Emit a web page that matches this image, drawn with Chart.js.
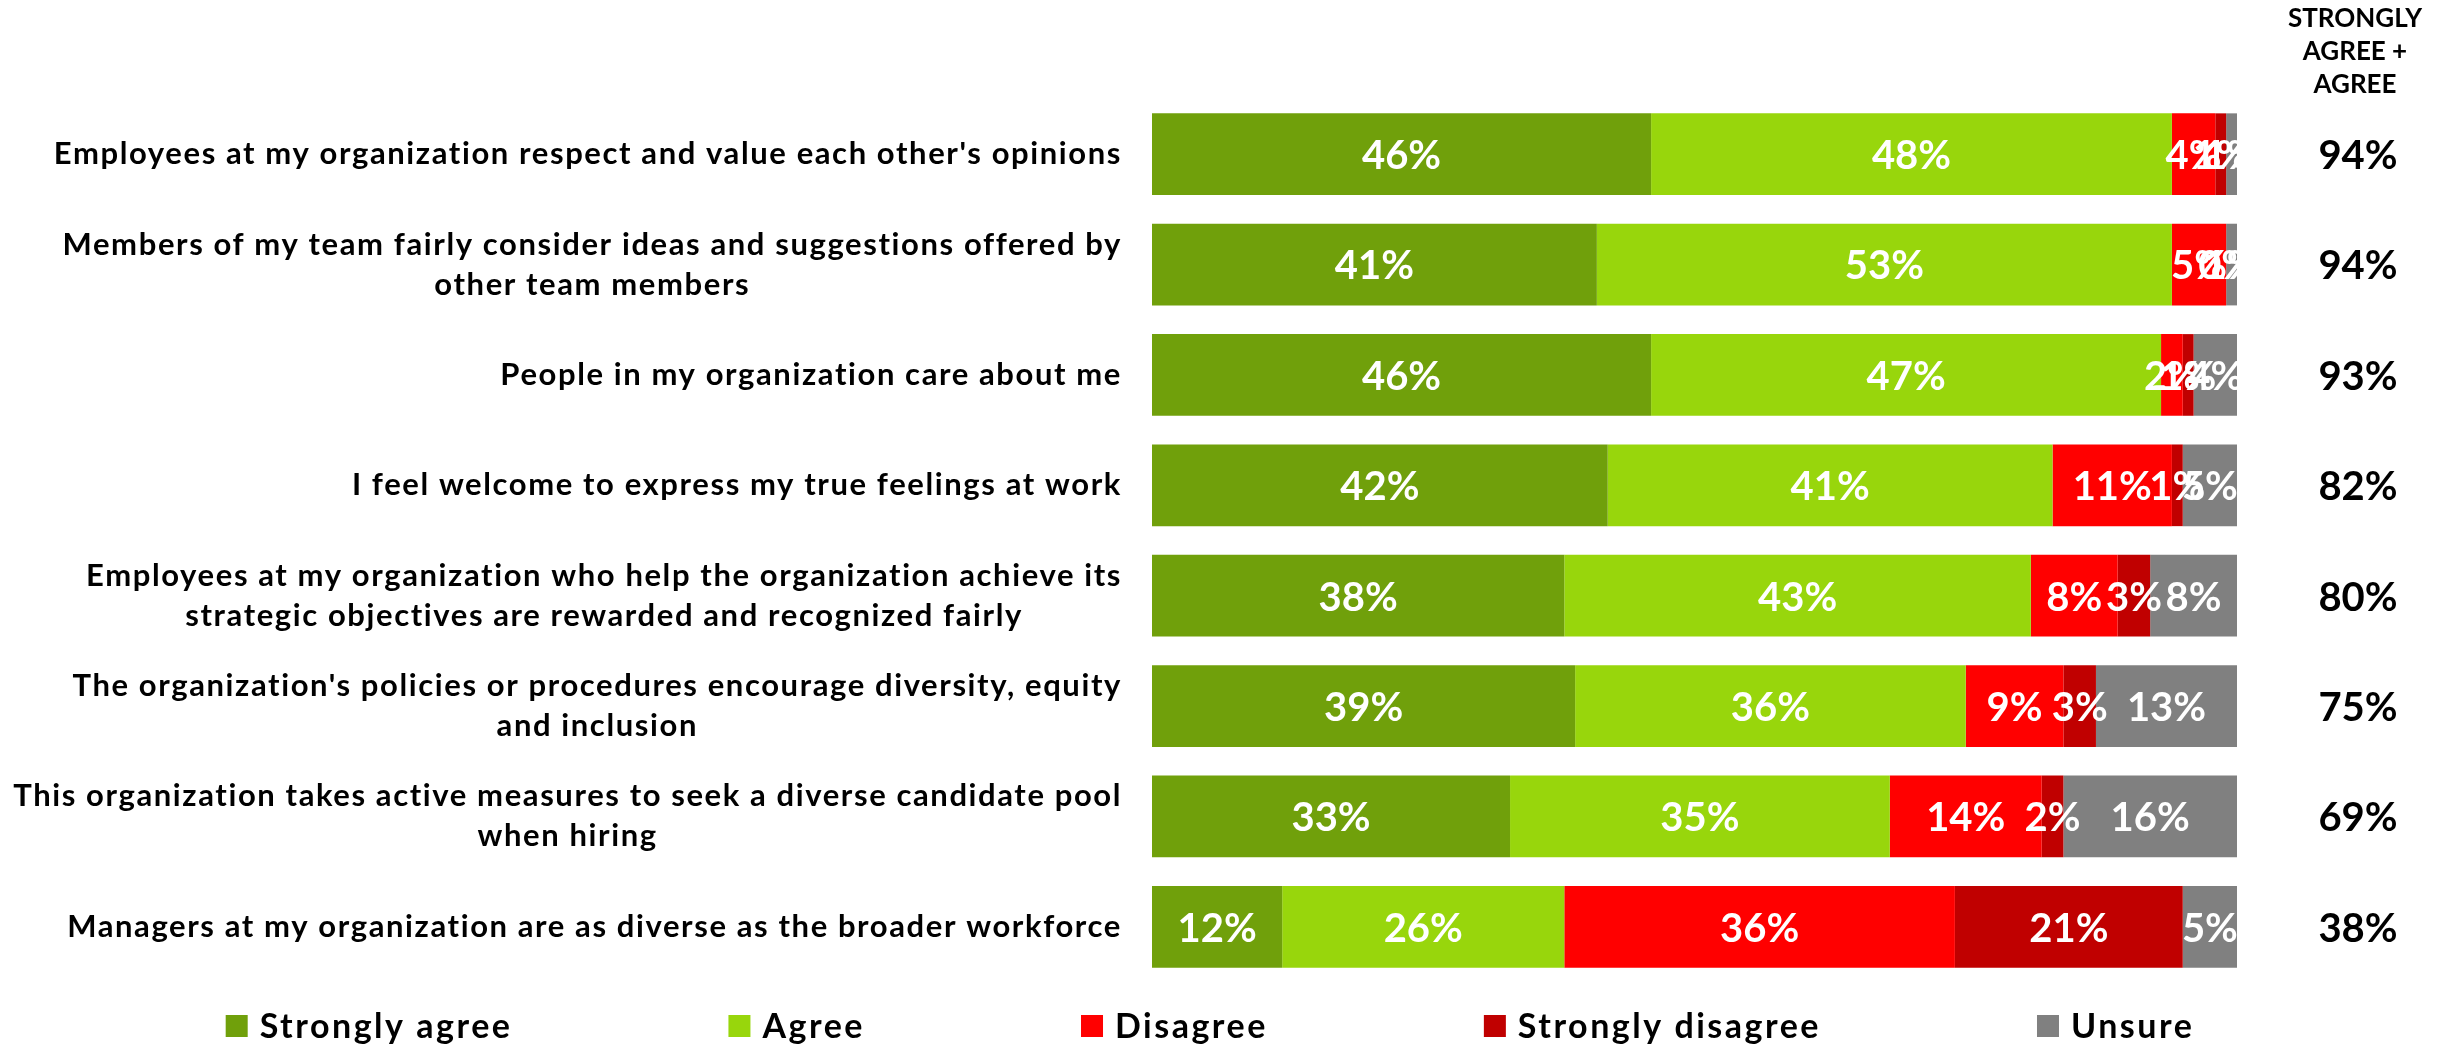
<!DOCTYPE html>
<html>
<head>
<meta charset="utf-8">
<title>Inclusion and belonging survey</title>
<script src="https://cdn.jsdelivr.net/npm/chart.js@4.4.1/dist/chart.umd.min.js"></script>
<style>
  html, body { margin: 0; padding: 0; background: #ffffff; }
  #wrap { width: 2448px; height: 1044px; }
</style>
</head>
<body>
<div id="wrap"><canvas id="surveyChart" width="2448" height="1044"></canvas></div>
<script>
// Survey statements (multi-line ones are pre-wrapped)
const statements = [
    "Employees at my organization respect and value each other's opinions",
    ["Members of my team fairly consider ideas and suggestions offered by", "other team members"],
    "People in my organization care about me",
    "I feel welcome to express my true feelings at work",
    ["Employees at my organization who help the organization achieve its", "strategic objectives are rewarded and recognized fairly"],
    ["The organization's policies or procedures encourage diversity, equity", "and inclusion"],
    ["This organization takes active measures to seek a diverse candidate pool", "when hiring"],
    "Managers at my organization are as diverse as the broader workforce"
];

// Response shares, percent
const stronglyAgree = [46, 41, 46, 42, 38, 39, 33, 12];
const agree = [48, 53, 47, 41, 43, 36, 35, 26];
const disagree = [4, 5, 2, 11, 8, 9, 14, 36];
const stronglyDisagree = [1, 0, 1, 1, 3, 3, 2, 21];
const unsure = [1, 1, 4, 5, 8, 13, 16, 5];

// "Strongly agree + agree" column as reported
const netAgree = [94, 94, 93, 82, 80, 75, 69, 38];
const netHeader = ['STRONGLY', 'AGREE +', 'AGREE'];

const seriesNames = ['Strongly agree', 'Agree', 'Disagree', 'Strongly disagree', 'Unsure'];
const seriesValues = [stronglyAgree, agree, disagree, stronglyDisagree, unsure];
const seriesColors = ['#70A00B', '#98D60C', '#FF0000', '#C00000', '#808080'];

const FONT = 'Lato, "Open Sans", "DejaVu Sans", sans-serif';

function drawStatements(chart) {
    const ctx = chart.ctx;
    const yScale = chart.scales.y;
    const right = chart.chartArea.left - 30;
    const lineHeight = 40;
    ctx.save();
    ctx.font = 'bold 31px ' + FONT;
    ctx.letterSpacing = '1.6px';
    ctx.fillStyle = '#000000';
    ctx.textAlign = 'center';
    ctx.textBaseline = 'middle';
    statements.forEach(function (label, i) {
        const lines = Array.isArray(label) ? label : [label];
        const boxWidth = Math.max.apply(null, lines.map(function (l) { return ctx.measureText(l).width; }));
        const cx = right - boxWidth / 2;
        const cy = yScale.getPixelForValue(i);
        const top = cy - (lines.length - 1) * lineHeight / 2;
        lines.forEach(function (line, k) {
            ctx.fillText(line, cx, top + k * lineHeight);
        });
    });
    ctx.restore();
}

function drawSegmentValues(chart) {
    const ctx = chart.ctx;
    ctx.save();
    ctx.font = 'bold 40px ' + FONT;
    ctx.fillStyle = '#ffffff';
    ctx.textAlign = 'center';
    ctx.textBaseline = 'middle';
    chart.data.datasets.forEach(function (ds, i) {
        chart.getDatasetMeta(i).data.forEach(function (bar, j) {
            const p = bar.getProps(['x', 'y', 'base'], true);
            ctx.fillText(ds.data[j] + '%', (p.x + p.base) / 2, p.y + 2);
        });
    });
    ctx.restore();
}

function drawNetColumn(chart) {
    const ctx = chart.ctx;
    const yScale = chart.scales.y;
    const cx = chart.chartArea.right + 121;
    ctx.save();
    ctx.fillStyle = '#000000';
    ctx.textAlign = 'center';
    ctx.textBaseline = 'middle';
    ctx.font = 'bold 26px ' + FONT;
    netHeader.forEach(function (line, k) {
        ctx.fillText(line, cx - 3, 19 + k * 33);
    });
    ctx.font = 'bold 40px ' + FONT;
    netAgree.forEach(function (v, i) {
        ctx.fillText(v + '%', cx, yScale.getPixelForValue(i) + 2);
    });
    ctx.restore();
}

function drawLegend(chart) {
    const ctx = chart.ctx;
    const box = 22, boxGap = 12, itemGap = 216;
    const centerX = 1210, centerY = 1026;
    ctx.save();
    ctx.font = 'bold 34px ' + FONT;
    ctx.letterSpacing = '2.5px';
    ctx.textBaseline = 'middle';
    ctx.textAlign = 'left';
    const widths = seriesNames.map(function (n) { return box + boxGap + ctx.measureText(n).width; });
    const total = widths.reduce(function (a, b) { return a + b; }, 0) + itemGap * (widths.length - 1);
    let x = centerX - total / 2;
    chart.data.datasets.forEach(function (ds, i) {
        ctx.fillStyle = ds.backgroundColor;
        ctx.fillRect(x, centerY - box / 2, box, box);
        ctx.fillStyle = '#000000';
        ctx.fillText(ds.label, x + box + boxGap, centerY + 1);
        x += widths[i] + itemGap;
    });
    ctx.restore();
}

const surveyText = {
    id: 'surveyText',
    afterDatasetsDraw: function (chart) {
        drawSegmentValues(chart);
        drawStatements(chart);
        drawNetColumn(chart);
        drawLegend(chart);
    }
};

function buildChart() {
    const context = document.getElementById('surveyChart').getContext('2d');
    new Chart(context, {
        type: 'bar',
        data: {
            labels: statements,
            datasets: seriesNames.map(function (name, i) {
                return {
                    label: name,
                    data: seriesValues[i],
                    backgroundColor: seriesColors[i],
                    borderWidth: 0,
                    categoryPercentage: 0.74,
                    barPercentage: 1.0
                };
            })
        },
        options: {
            indexAxis: 'y',
            responsive: false,
            devicePixelRatio: 1,
            animation: false,
            layout: {
                padding: { left: 1152, right: 211, top: 99, bottom: 62 }
            },
            scales: {
                x: { stacked: true, min: 0, max: 100, display: false },
                y: { stacked: true, display: false }
            },
            plugins: {
                legend: { display: false },
                tooltip: { enabled: false }
            }
        },
        plugins: [surveyText]
    });
}

if (document.fonts && document.fonts.load) {
    document.fonts.load('bold 30px Lato').then(buildChart, buildChart);
} else {
    buildChart();
}
</script>
</body>
</html>
